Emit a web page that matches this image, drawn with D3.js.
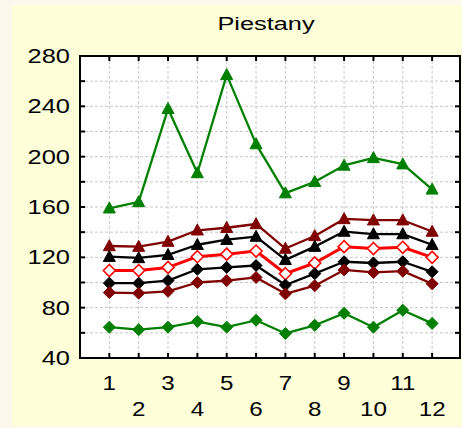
<!DOCTYPE html>
<html>
<head>
<meta charset="utf-8">
<script src="https://cdn.jsdelivr.net/npm/d3@7"></script>
<style>
  body { margin: 0; background: #fcf8ee; }
  svg { display: block; }
  text { font-family: "Liberation Sans", Arial, sans-serif; fill: #000; }
</style>
</head>
<body>
<svg id="chart"></svg>
<script>
const months = [1, 2, 3, 4, 5, 6, 7, 8, 9, 10, 11, 12];
const yTicks = [40, 80, 120, 160, 200, 240, 280];

// values, top series first
const maxGreen = [159, 164, 238, 187, 265, 210, 171, 180, 193, 199, 194, 174];
const upperRed = [129, 128.5, 132.5, 141.5, 143.5, 146.5, 127, 137, 150.5, 149.5, 149.5, 140.5];
const upperBlack = [120.5, 119.5, 122, 130, 134, 136.5, 118, 128.5, 140.5, 138.5, 138.5, 130];
const meanRed = [109.5, 109.5, 112, 120.5, 122.5, 125, 107, 115.5, 128.5, 127, 128, 120];
const lowerBlack = [99.5, 99.5, 101.5, 110.5, 112, 113.5, 98, 107, 116.5, 115.5, 116.5, 108.5];
const lowerRed = [92, 91.5, 93, 100, 101.5, 104, 91, 97.5, 110, 108, 109, 99];
const minGreen = [64.5, 62.5, 64.5, 69, 64.5, 70, 59.5, 66, 75.5, 64.5, 78, 67.5];

const width = 462, height = 428;
const plot = { left: 80, right: 460, top: 56, bottom: 358 };

const svg = d3.select("#chart").attr("width", width).attr("height", height);

// yellow panel behind everything
svg.append("rect")
  .attr("x", 12).attr("y", 5)
  .attr("width", width - 12).attr("height", 421)
  .attr("fill", "#fefed8");

const x = d3.scaleLinear().domain([0, 12.95]).range([plot.left, plot.right]);
const y = d3.scaleLinear().domain([40, 280]).range([plot.bottom, plot.top]);

svg.append("rect")
  .attr("x", plot.left).attr("y", plot.top)
  .attr("width", plot.right - plot.left).attr("height", plot.bottom - plot.top)
  .attr("fill", "#fff");

// dashed grid
const grid = svg.append("g")
  .attr("stroke", "#c8c8c8").attr("stroke-dasharray", "3,2").attr("stroke-width", 1);
grid.selectAll(".gx").data(months).join("line")
  .attr("x1", d => x(d)).attr("x2", d => x(d))
  .attr("y1", plot.top).attr("y2", plot.bottom);
grid.selectAll(".gy").data(d3.range(60, 280, 20)).join("line")
  .attr("class", "gy")
  .attr("x1", plot.left).attr("x2", plot.right)
  .attr("y1", d => y(d)).attr("y2", d => y(d));

const series = [
  { values: maxGreen, color: "#008000", shape: "tri", width: 2.3 },
  { values: upperRed, color: "#800000", shape: "tri", width: 2.3 },
  { values: upperBlack, color: "#000", shape: "tri", width: 2.3 },
  { values: meanRed, color: "#ff0000", shape: "diamond", width: 3, open: true },
  { values: lowerBlack, color: "#000", shape: "diamond", width: 2.3 },
  { values: lowerRed, color: "#800000", shape: "diamond", width: 2.3 },
  { values: minGreen, color: "#008000", shape: "diamond", width: 2.3 },
];

const line = d3.line().x((d, i) => x(months[i])).y(d => y(d));
const tri = "M0,-6.3L6,4.7L-6,4.7Z";
const diamond = "M0,-6L6,0L0,6L-6,0Z";

series.forEach(s => {
  svg.append("path")
    .attr("d", line(s.values))
    .attr("fill", "none")
    .attr("stroke", s.color)
    .attr("stroke-width", s.width)
    .attr("stroke-linejoin", "round");

  svg.append("g").selectAll("path").data(s.values).join("path")
    .attr("transform", (d, i) => `translate(${x(months[i])},${y(d)})`)
    .attr("d", s.shape === "tri" ? tri : diamond)
    .attr("fill", s.open ? "#fff" : s.color)
    .attr("stroke", s.color)
    .attr("stroke-width", s.open ? 1.6 : 1);
});

// frame and inward ticks
const axes = svg.append("g").attr("stroke", "#000").attr("stroke-width", 2);
axes.append("rect")
  .attr("x", plot.left).attr("y", plot.top)
  .attr("width", plot.right - plot.left).attr("height", plot.bottom - plot.top)
  .attr("fill", "none");
const tl = 5;
d3.range(60, 280, 20).forEach(v => {
  axes.append("line").attr("x1", plot.left).attr("x2", plot.left + tl).attr("y1", y(v)).attr("y2", y(v));
  axes.append("line").attr("x1", plot.right).attr("x2", plot.right - tl).attr("y1", y(v)).attr("y2", y(v));
});
months.forEach(m => {
  axes.append("line").attr("x1", x(m)).attr("x2", x(m)).attr("y1", plot.top).attr("y2", plot.top + tl);
  axes.append("line").attr("x1", x(m)).attr("x2", x(m)).attr("y1", plot.bottom).attr("y2", plot.bottom - tl);
});

// labels (the original text is stretched sideways)
svg.append("g").selectAll("text").data(yTicks).join("text")
  .attr("transform", d => `translate(70,${y(d) + 7}) scale(1.27,1)`)
  .attr("text-anchor", "end")
  .attr("font-size", 20)
  .text(d => d);

svg.append("g").selectAll("text").data(months).join("text")
  .attr("transform", d => `translate(${x(d)},${d % 2 ? 390 : 416}) scale(1.24,1)`)
  .attr("text-anchor", "middle")
  .attr("font-size", 19.5)
  .text(d => d);

svg.append("text")
  .attr("transform", "translate(266,29.5) scale(1.37,1)")
  .attr("text-anchor", "middle")
  .attr("font-size", 18.5)
  .text("Piestany");
</script>
</body>
</html>
